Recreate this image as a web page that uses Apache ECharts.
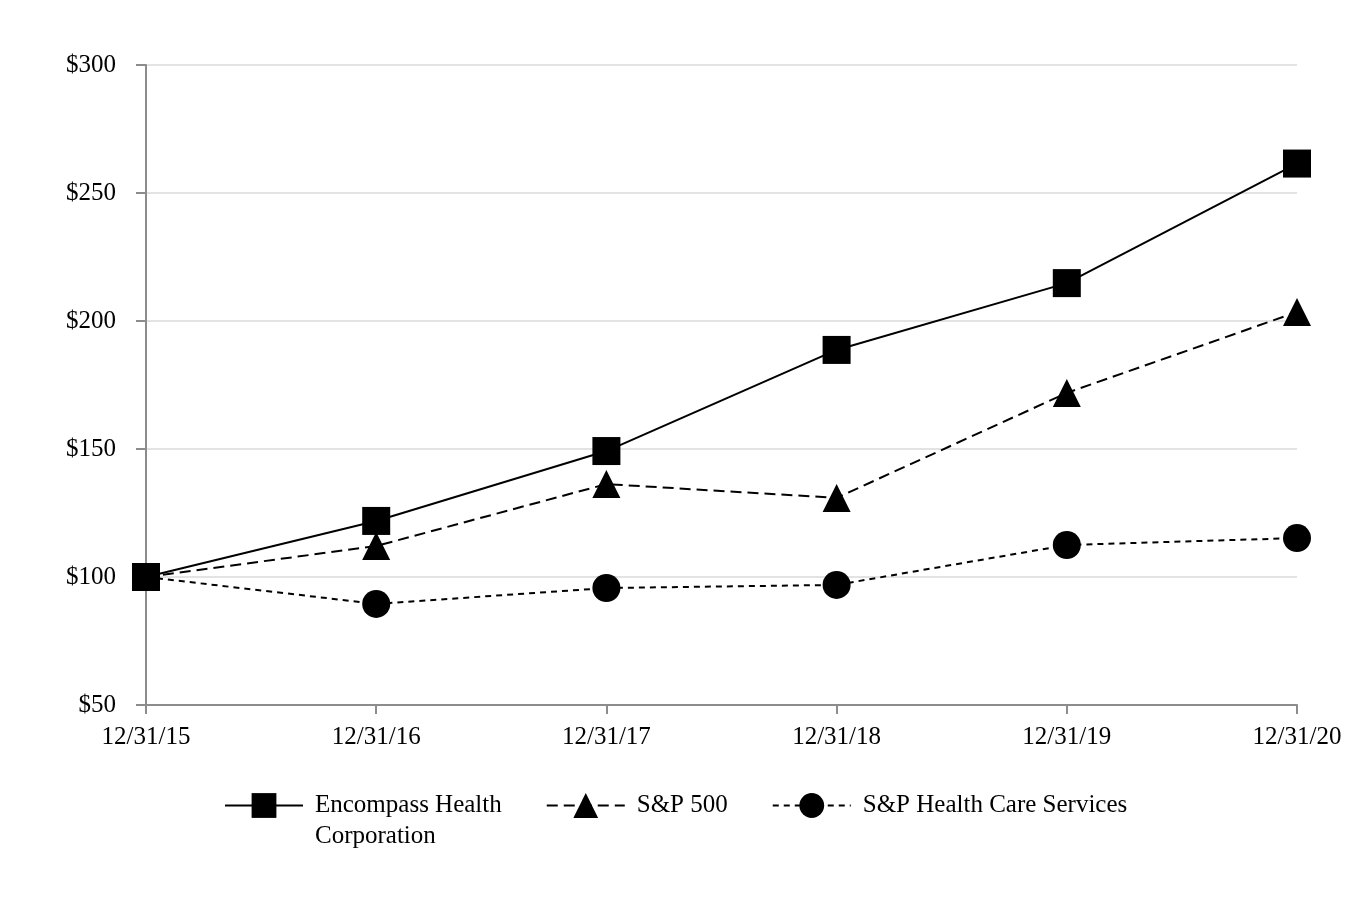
<!DOCTYPE html>
<html>
<head>
<meta charset="utf-8">
<script src="https://cdn.jsdelivr.net/npm/echarts@6/dist/echarts.min.js"></script>
<style>html,body{margin:0;padding:0;background:#fff}#c{width:1360px;height:922px}</style>
</head>
<body>
<div id="c"></div>
<script>
const categories = ['12/31/15', '12/31/16', '12/31/17', '12/31/18', '12/31/19', '12/31/20'];
const encompass = [100, 121.9, 149.2, 188.7, 214.8, 261.5];
const sp500 = [100, 112.1, 136.3, 130.9, 171.9, 203.5];
const spHealthCare = [100, 89.5, 95.7, 96.9, 112.5, 115.2];
const seriesNames = ['Encompass Health Corporation', 'S&P 500', 'S&P Health Care Services'];

const FONT = '"Liberation Serif", "Times New Roman", serif';
const chart = echarts.init(document.getElementById('c'));
chart.setOption({
  animation: false,
  backgroundColor: '#fff',
  grid: { left: 146, right: 63, top: 65, bottom: 217, containLabel: false },
  xAxis: {
    type: 'category', data: categories, boundaryGap: false,
    axisLine: { lineStyle: { color: '#8c8c8c', width: 2 } },
    axisTick: { show: true, length: 9, alignWithLabel: true, lineStyle: { color: '#8c8c8c', width: 2 } },
    axisLabel: { color: '#000', fontFamily: FONT, fontSize: 25, margin: 20 },
    splitLine: { show: false }
  },
  yAxis: {
    type: 'value', min: 50, max: 300, interval: 50,
    axisLine: { show: true, lineStyle: { color: '#8c8c8c', width: 2 } },
    axisTick: { show: true, length: 10, lineStyle: { color: '#8c8c8c', width: 2 } },
    axisLabel: { color: '#000', fontFamily: FONT, fontSize: 25, margin: 30, formatter: v => '$' + v },
    splitLine: { show: true, lineStyle: { color: '#e3e3e3', width: 2 } }
  },
  legend: {
    left: 219, top: 754, itemWidth: 78, itemHeight: 31, itemGap: 44,
    data: seriesNames,
    formatter: n => n === seriesNames[0] ? '\nEncompass Health\nCorporation' : n,
    textStyle: { color: '#000', fontFamily: FONT, fontSize: 25, lineHeight: 31, padding: [0, 0, 0, 7] }
  },
  series: [
    { name: seriesNames[0], type: 'line', data: encompass, symbol: 'rect', symbolSize: 28,
      itemStyle: { color: '#000' }, lineStyle: { color: '#000', width: 2, type: 'solid' } },
    { name: seriesNames[1], type: 'line', data: sp500, symbol: 'triangle', symbolSize: 28,
      itemStyle: { color: '#000' }, lineStyle: { color: '#000', width: 2, type: [11, 6] } },
    { name: seriesNames[2], type: 'line', data: spHealthCare, symbol: 'circle', symbolSize: 28,
      itemStyle: { color: '#000' }, lineStyle: { color: '#000', width: 2, type: [6, 5] } }
  ]
});
</script>
</body>
</html>
